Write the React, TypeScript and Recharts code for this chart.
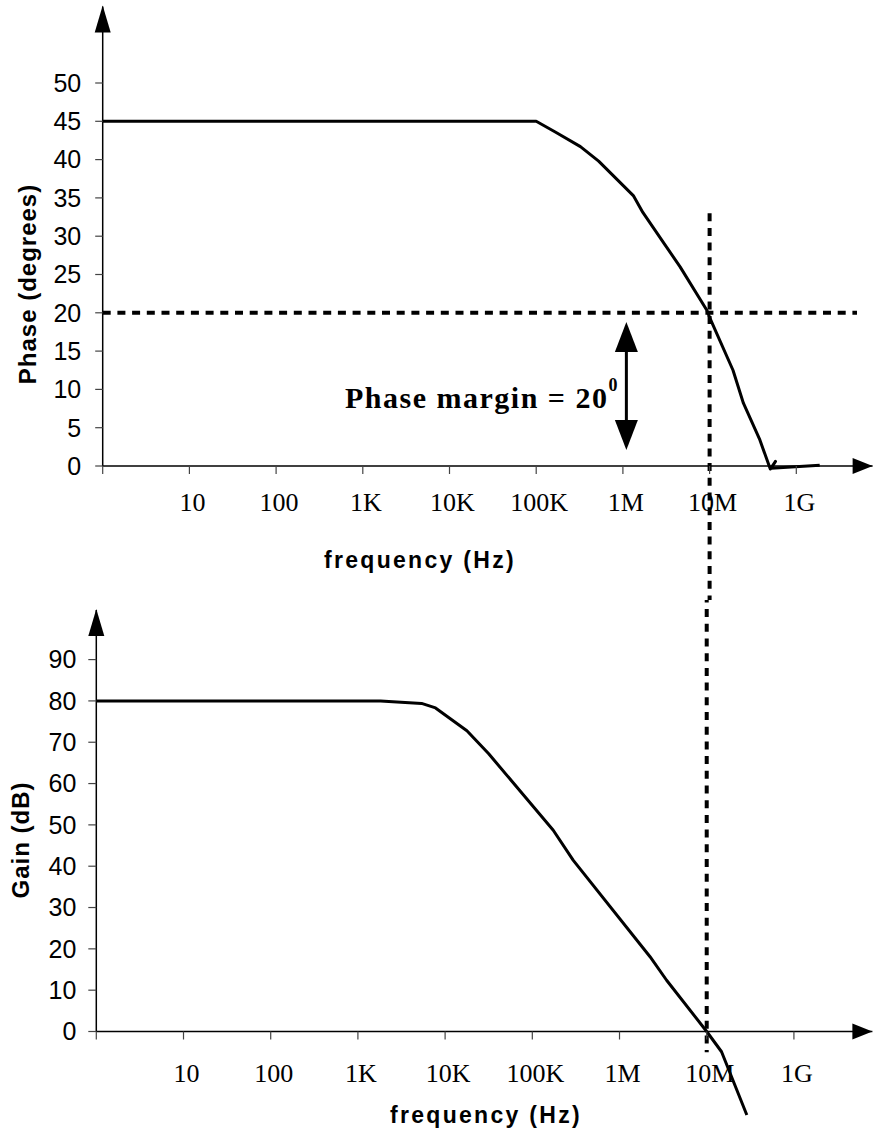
import React from 'react';
import { LineChart, Line, XAxis, YAxis, ReferenceLine, Customized } from 'recharts';

// ---- data ----
const xTickPositions = [0, 1, 2, 3, 4, 5, 6, 7, 8];
const xTickLabels = ['', '10', '100', '1K', '10K', '100K', '1M', '10M', '1G'];

const phaseTicks = [0, 5, 10, 15, 20, 25, 30, 35, 40, 45, 50];
const phaseFreqDecade = [0, 1, 2, 3, 4, 5, 5.22, 5.51, 5.72, 6.12, 6.23, 6.49, 6.66, 6.97, 7.0, 7.27, 7.39, 7.58, 7.7, 7.76, 7.71, 8.27];
const phaseDegrees = [45, 45, 45, 45, 45, 45, 43.6, 41.7, 39.8, 35.3, 33.1, 28.8, 26, 20.3, 19.4, 12.5, 8.2, 3.4, -0.4, 0.6, -0.3, 0.1];

const gainTicks = [0, 10, 20, 30, 40, 50, 60, 70, 80, 90];
const gainFreqDecade = [0, 1, 2, 3, 3.26, 3.73, 3.89, 4.06, 4.25, 4.5, 5.24, 5.47, 6.35, 6.54, 7, 7.17, 7.46];
const gainDb = [80, 80, 80, 80, 80, 79.4, 78.3, 75.7, 72.8, 67.2, 48.7, 41.4, 18.1, 12.4, 0, -4.9, -20.2];

const phaseMargin = 20;
const crossoverDecade = 7;
const phaseMarginArrowDecade = 6.04;

const phaseData = phaseFreqDecade.map((x, i) => ({ x, y: phaseDegrees[i] }));
const gainData = gainFreqDecade.map((x, i) => ({ x, y: gainDb[i] }));

const SANS = '"Liberation Sans", Arial, sans-serif';
const SERIF = '"Liberation Serif", "Times New Roman", serif';

const XTick = (props: any) => {
  const { x, y, payload } = props;
  return (
    <text x={x + 3} y={y} dy="0.71em" textAnchor="middle" fontFamily={SERIF} fontSize={26} fill="#000">
      {xTickLabels[Math.round(payload.value)]}
    </text>
  );
};

const UpArrowHead = (props: any) => {
  const { x2, y2 } = props;
  return <polygon points={`${x2},${y2 - 1} ${x2 - 8},${y2 + 26} ${x2 + 8},${y2 + 26}`} fill="#000" />;
};
const RightArrowHead = (props: any) => {
  const { x2, y2 } = props;
  return <polygon points={`${x2},${y2} ${x2 - 20},${y2 - 8} ${x2 - 20},${y2 + 8}`} fill="#000" />;
};
const DoubleArrow = (props: any) => {
  const { x1, y1, x2, y2 } = props;
  const top = Math.min(y1, y2);
  const bot = Math.max(y1, y2);
  const x = x1;
  return (
    <g>
      <line x1={x} y1={top + 20} x2={x} y2={bot - 20} stroke="#000" strokeWidth={3} />
      <polygon points={`${x},${top} ${x - 11.5},${top + 30} ${x + 11.5},${top + 30}`} fill="#000" />
      <polygon points={`${x},${bot} ${x - 11.5},${bot - 30} ${x + 11.5},${bot - 30}`} fill="#000" />
    </g>
  );
};

const TopTexts = () => (
  <g>
    <text x={27} y={284} transform="rotate(-90 27 284)" textAnchor="middle" dominantBaseline="central"
      fontFamily={SANS} fontWeight="bold" fontSize={24} letterSpacing={1} fill="#000">Phase (degrees)</text>
    <text x={420} y={560} textAnchor="middle" dominantBaseline="central"
      fontFamily={SANS} fontWeight="bold" fontSize={23} letterSpacing={2.3} fill="#000">frequency (Hz)</text>
    <text x={345} y={408} fontFamily={SERIF} fontWeight="bold" fontSize={30} letterSpacing={1.5} fill="#000">
      Phase margin = 20<tspan dy={-17} fontSize={18} letterSpacing={0}>0</tspan>
    </text>
  </g>
);

const BottomTexts = () => (
  <g>
    <text x={20} y={240} transform="rotate(-90 20 240)" textAnchor="middle" dominantBaseline="central"
      fontFamily={SANS} fontWeight="bold" fontSize={24} letterSpacing={1} fill="#000">Gain (dB)</text>
    <text x={486} y={515} textAnchor="middle" dominantBaseline="central"
      fontFamily={SANS} fontWeight="bold" fontSize={23} letterSpacing={2.3} fill="#000">frequency (Hz)</text>
  </g>
);

const dotted = { stroke: '#000', strokeWidth: 4, strokeDasharray: '8 6.7' };

export default function App() {
  return (
    <div style={{ position: 'absolute', left: 0, top: 0, width: 873, height: 1137, background: '#fff' }}>
      <style>{`.no-clip, .no-clip * { clip-path: none !important; }`}</style>
      <div style={{ position: 'absolute', left: 0, top: 0 }}>
        <LineChart width={873} height={600} data={phaseData}
          margin={{ top: 6.4, left: 42.7, right: 0.4, bottom: 94 }}>
          <XAxis dataKey="x" type="number" domain={[0, 8.88]} ticks={xTickPositions} interval={0}
            allowDataOverflow tickSize={8} tickMargin={19} tick={<XTick />} height={40}
            axisLine={{ stroke: '#000', strokeWidth: 1.5 }} tickLine={{ stroke: '#444', strokeWidth: 1.2 }} />
          <YAxis type="number" domain={[0, 60]} ticks={phaseTicks} interval={0} allowDataOverflow width={60}
            tickSize={7.5} tickMargin={14}
            tick={{ fill: '#000', fontSize: 25, fontFamily: SANS }}
            axisLine={{ stroke: '#000', strokeWidth: 1.5 }} tickLine={{ stroke: '#444', strokeWidth: 1.2 }} />
          <ReferenceLine segment={[{ x: 0, y: phaseMargin }, { x: 8.7, y: phaseMargin }]} ifOverflow="visible" {...dotted} />
          <ReferenceLine segment={[{ x: crossoverDecade, y: 33 }, { x: crossoverDecade, y: -20 }]} ifOverflow="visible" {...dotted} />
          <ReferenceLine segment={[{ x: phaseMarginArrowDecade, y: 18.8 }, { x: phaseMarginArrowDecade, y: 2.1 }]} ifOverflow="visible" shape={<DoubleArrow />} />
          <ReferenceLine segment={[{ x: 0, y: 0 }, { x: 0, y: 60 }]} ifOverflow="visible" shape={<UpArrowHead />} />
          <ReferenceLine segment={[{ x: 0, y: 0 }, { x: 8.88, y: 0 }]} ifOverflow="visible" shape={<RightArrowHead />} />
          <Line className="no-clip" dataKey="y" type="linear" stroke="#000" strokeWidth={3} dot={false}
            strokeLinejoin="round" isAnimationActive={false} />
          <Customized component={<TopTexts />} />
        </LineChart>
      </div>
      <div style={{ position: 'absolute', left: 0, top: 600 }}>
        <LineChart width={873} height={537} data={gainData}
          margin={{ top: 10, left: 36.3, right: 0.6, bottom: 65.5 }}>
          <XAxis dataKey="x" type="number" domain={[0, 8.9]} ticks={xTickPositions} interval={0}
            allowDataOverflow tickSize={8} tickMargin={23.6} tick={<XTick />} height={40}
            axisLine={{ stroke: '#000', strokeWidth: 1.5 }} tickLine={{ stroke: '#444', strokeWidth: 1.2 }} />
          <YAxis type="number" domain={[0, 102]} ticks={gainTicks} interval={0} allowDataOverflow width={60}
            tickSize={8} tickMargin={12}
            tick={{ fill: '#000', fontSize: 25, fontFamily: SANS }}
            axisLine={{ stroke: '#000', strokeWidth: 1.5 }} tickLine={{ stroke: '#444', strokeWidth: 1.2 }} />
          <ReferenceLine segment={[{ x: crossoverDecade, y: 120 }, { x: crossoverDecade, y: -5 }]} ifOverflow="visible" {...dotted} />
          <ReferenceLine segment={[{ x: 0, y: 0 }, { x: 0, y: 102 }]} ifOverflow="visible" shape={<UpArrowHead />} />
          <ReferenceLine segment={[{ x: 0, y: 0 }, { x: 8.9, y: 0 }]} ifOverflow="visible" shape={<RightArrowHead />} />
          <Line className="no-clip" dataKey="y" type="linear" stroke="#000" strokeWidth={3} dot={false}
            strokeLinejoin="round" isAnimationActive={false} />
          <Customized component={<BottomTexts />} />
        </LineChart>
      </div>
    </div>
  );
}
